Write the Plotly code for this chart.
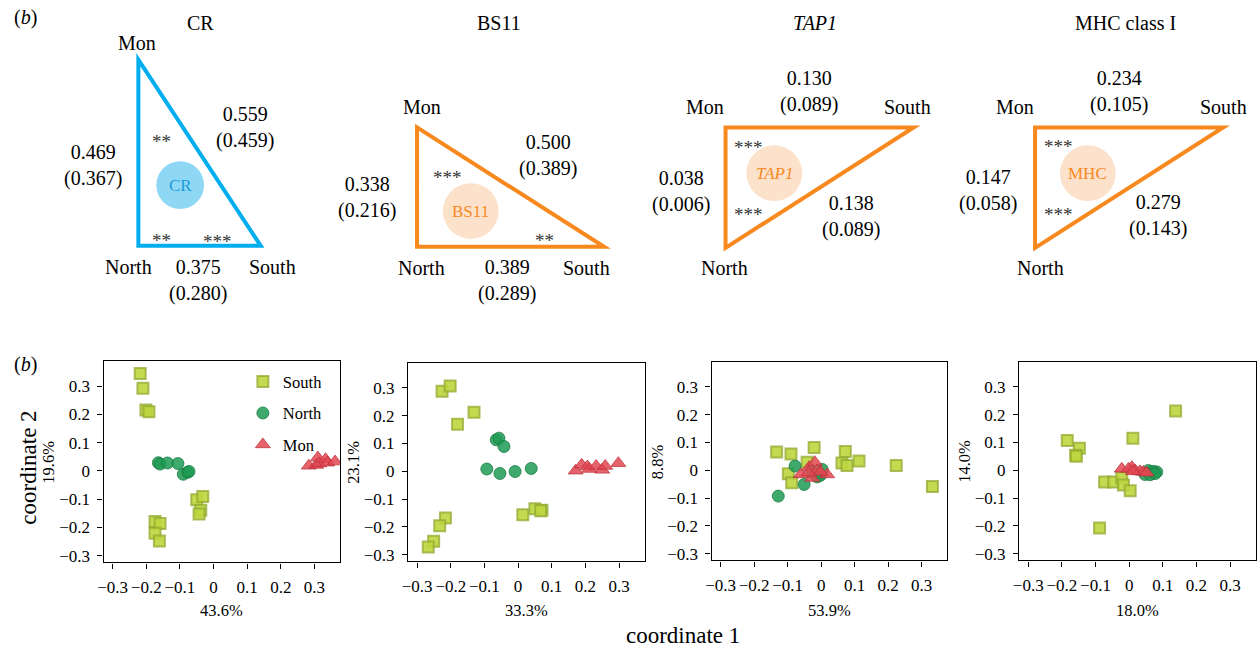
import plotly.graph_objects as go

W, H = 1258, 648
FONT = "Liberation Serif, Times New Roman, serif"

# ---------------- top row: pairwise values between populations ----------------
genes = ["CR", "BS11", "<i>TAP1</i>", "MHC class I"]
circle_labels = ["CR", "BS11", "<i>TAP1</i>", "MHC"]
mon_south = ["0.559", "0.500", "0.130", "0.234"]
mon_south_paren = ["(0.459)", "(0.389)", "(0.089)", "(0.105)"]
mon_north = ["0.469", "0.338", "0.038", "0.147"]
mon_north_paren = ["(0.367)", "(0.216)", "(0.006)", "(0.058)"]
north_south = ["0.375", "0.389", "0.138", "0.279"]
north_south_paren = ["(0.280)", "(0.289)", "(0.089)", "(0.143)"]
stars = [["**", "**", "***"], ["***", "**"], ["***", "***"], ["***", "***"]]

# ---------------- bottom row: PCoA coordinates ----------------
cr_south_x = [-0.218, -0.210, -0.201, -0.192, -0.050, -0.032, -0.038, -0.043, -0.174, -0.159, -0.174, -0.161]
cr_south_y = [0.345, 0.293, 0.216, 0.209, -0.102, -0.091, -0.139, -0.153, -0.179, -0.186, -0.221, -0.248]
cr_north_x = [-0.164, -0.159, -0.137, -0.106, -0.090, -0.077, -0.073]
cr_north_y = [0.029, 0.024, 0.028, 0.026, -0.012, -0.005, -0.002]
cr_mon_x = [0.283, 0.305, 0.310, 0.314, 0.333, 0.338, 0.361]
cr_mon_y = [0.018, 0.021, 0.047, 0.026, 0.041, 0.029, 0.033]

bs_south_x = [-0.226, -0.202, -0.131, -0.180, 0.014, 0.050, 0.071, 0.067, -0.216, -0.233, -0.251, -0.267]
bs_south_y = [0.288, 0.306, 0.212, 0.169, -0.156, -0.135, -0.140, -0.142, -0.168, -0.196, -0.252, -0.272]
bs_north_x = [-0.065, -0.057, -0.042, -0.093, -0.054, -0.009, 0.039]
bs_north_y = [0.113, 0.119, 0.089, 0.008, -0.008, -0.001, 0.010]
bs_mon_x = [0.171, 0.189, 0.206, 0.212, 0.232, 0.250, 0.259, 0.298]
bs_mon_y = [0.002, 0.023, 0.017, 0.008, 0.019, 0.005, 0.019, 0.029]

tap_south_x = [-0.133, -0.090, -0.021, 0.072, -0.042, -0.098, -0.088, 0.062, 0.077, 0.113, 0.224, 0.332]
tap_south_y = [0.066, 0.058, 0.082, 0.067, 0.029, -0.013, -0.045, 0.026, 0.017, 0.033, 0.017, -0.058]
tap_north_x = [-0.078, -0.051, -0.128, -0.002, 0.003, -0.012, -0.027]
tap_north_y = [0.015, -0.051, -0.093, -0.018, 0.003, -0.024, -0.006]
tap_mon_x = [-0.061, -0.036, -0.019, -0.012, -0.027, 0.018, -0.002, -0.038]
tap_mon_y = [-0.015, 0.011, 0.029, 0.000, -0.028, -0.015, -0.006, -0.009]

mhc_south_x = [0.138, 0.011, -0.184, -0.148, -0.159, -0.157, -0.073, -0.046, -0.022, -0.017, 0.003, -0.088]
mhc_south_y = [0.213, 0.115, 0.107, 0.079, 0.054, 0.050, -0.042, -0.042, -0.027, -0.053, -0.074, -0.208]
mhc_north_x = [0.057, 0.067, 0.082, 0.047, 0.072, 0.062, 0.077]
mhc_north_y = [-0.001, -0.009, -0.006, -0.015, -0.004, -0.016, -0.012]
mhc_mon_x = [-0.022, 0.008, 0.018, 0.032, 0.042, -0.002, 0.011, 0.052]
mhc_mon_y = [0.005, 0.011, -0.001, -0.004, -0.006, 0.005, -0.004, -0.009]

pct_x = ["43.6%", "33.3%", "53.9%", "18.0%"]
pct_y = ["19.6%", "23.1%", "8.8%", "14.0%"]
tick_vals = [-0.3, -0.2, -0.1, 0, 0.1, 0.2, 0.3]

# ---------------- layout geometry (pixels) ----------------
def px(x):
    return x / W


def py(y):
    return 1 - y / H


CYAN = "#00AEEF"
ORANGE = "#F7891F"
tri_colors = [CYAN, ORANGE, ORANGE, ORANGE]
circ_fill = ["#8ED8F6", "#FCE1CB", "#FCE1CB", "#FCE1CB"]
circ_text = ["#1E9BD7", ORANGE, ORANGE, ORANGE]

tri_vertices = [
    [(133, 60), (133, 247), (256, 247)],
    [(413, 128), (413, 248), (601, 248)],
    [(723, 128), (912, 128), (723, 249)],
    [(1034, 128), (1223, 128), (1034, 249)],
]
circ_geo = [(175, 186, 24), (467, 212, 28), (772, 174, 28), (1087, 174, 28)]
title_pos = [(195, 23), (495, 23), (813, 23), (1125, 23)]
mon_pos = [(132, 43), (418, 108), (702, 108), (1014, 108)]
north_pos = [(123, 268), (417, 269), (722, 269), (1039, 269)]
south_pos = [(268, 268), (583, 269), (906, 108), (1223, 108)]
ms_pos = [(240, 128), (545, 156), (807, 92), (1118, 92)]
mn_pos = [(87, 166), (363, 198), (678, 192), (987, 191)]
ns_pos = [(193, 282), (503, 282), (849, 218), (1158, 217)]
star_pos = [
    [(156, 137), (156, 237), (213, 238)],
    [(444, 173), (541, 237)],
    [(746, 143), (746, 211)],
    [(1058, 142), (1058, 211)],
]

domains_px = [
    (98, 336, 363, 565),
    (404, 642, 365, 564),
    (709, 946, 364, 563),
    (1018, 1256, 364, 563),
]

fig = go.Figure()
shapes = []
annotations = []


def ann(x, y, text, size=20, color="black", **kw):
    d = dict(x=px(x), y=py(y), xref="paper", yref="paper", text=text,
             showarrow=False, xanchor="center", yanchor="middle",
             font=dict(family=FONT, size=size, color=color))
    d.update(kw)
    annotations.append(d)


for i in range(4):
    v = tri_vertices[i]
    path = "M {} {} L {} {} L {} {} Z".format(
        px(v[0][0]), py(v[0][1]), px(v[1][0]), py(v[1][1]), px(v[2][0]), py(v[2][1]))
    shapes.append(dict(type="path", path=path, xref="paper", yref="paper",
                       line=dict(color=tri_colors[i], width=4), fillcolor="rgba(0,0,0,0)"))
    cx, cy, r = circ_geo[i]
    shapes.append(dict(type="circle", xref="paper", yref="paper",
                       x0=px(cx - r), x1=px(cx + r), y0=py(cy + r), y1=py(cy - r),
                       fillcolor=circ_fill[i], line=dict(width=0)))
    ann(cx, cy, circle_labels[i], size=17, color=circ_text[i])
    ann(*title_pos[i], genes[i])
    ann(*mon_pos[i], "Mon")
    ann(*north_pos[i], "North")
    ann(*south_pos[i], "South")
    ann(*ms_pos[i], mon_south[i] + "<br>" + mon_south_paren[i])
    ann(*mn_pos[i], mon_north[i] + "<br>" + mon_north_paren[i])
    ann(*ns_pos[i], north_south[i] + "<br>" + north_south_paren[i])
    for (sx, sy), s in zip(star_pos[i], stars[i]):
        ann(sx, sy + 5, s, size=19, color="#333333")

ann(20, 18, "(<i>b</i>)", size=20)
ann(20, 366, "(<i>b</i>)", size=20)
ann(23, 470, "coordinate 2", size=23, textangle=-90)
ann(680, 638, "coordinate 1", size=23)

# ---------------- scatter panels ----------------
panels = [
    (cr_south_x, cr_south_y, cr_north_x, cr_north_y, cr_mon_x, cr_mon_y),
    (bs_south_x, bs_south_y, bs_north_x, bs_north_y, bs_mon_x, bs_mon_y),
    (tap_south_x, tap_south_y, tap_north_x, tap_north_y, tap_mon_x, tap_mon_y),
    (mhc_south_x, mhc_south_y, mhc_north_x, mhc_north_y, mhc_mon_x, mhc_mon_y),
]

south_style = dict(symbol="square", size=11, color="rgba(190,214,62,0.9)",
                   line=dict(color="rgba(145,170,48,0.75)", width=2))
north_style = dict(symbol="circle", size=12, color="rgba(30,155,85,0.85)",
                   line=dict(color="rgba(25,125,65,0.8)", width=1))
mon_style = dict(symbol="triangle-up", size=13, color="rgba(226,72,82,0.85)",
                 line=dict(color="rgba(185,45,55,0.7)", width=1))

layout_axes = {}
for i, (sx, sy, nx, ny, mx, my) in enumerate(panels):
    k = "" if i == 0 else str(i + 1)
    xa, ya = "x" + k, "y" + k
    show = i == 0
    fig.add_trace(go.Scatter(x=sx, y=sy, mode="markers", name="South", marker=south_style,
                             xaxis=xa, yaxis=ya, showlegend=show, legendgroup="s"))
    fig.add_trace(go.Scatter(x=nx, y=ny, mode="markers", name="North", marker=north_style,
                             xaxis=xa, yaxis=ya, showlegend=show, legendgroup="n"))
    fig.add_trace(go.Scatter(x=mx, y=my, mode="markers", name="Mon", marker=mon_style,
                             xaxis=xa, yaxis=ya, showlegend=show, legendgroup="m"))
    x0, x1, y0, y1 = domains_px[i]
    common = dict(showline=True, mirror=True, linecolor="black", linewidth=1.3,
                  ticks="outside", ticklen=5, tickcolor="black", showgrid=False,
                  zeroline=False, tickvals=tick_vals, fixedrange=True,
                  ticklabelstandoff=4,
                  tickfont=dict(family=FONT, size=17, color="black"))
    layout_axes["xaxis" + k] = dict(domain=[px(x0), px(x1)], range=[-0.327, 0.377],
                                    anchor=ya, **common)
    layout_axes["yaxis" + k] = dict(domain=[py(y1), py(y0)], range=[-0.324, 0.388],
                                    anchor=xa, **common)
    ann((x0 + x1) / 2, 613, pct_x[i], size=16.5)
    ann(x0 - 55, (y0 + y1) / 2, pct_y[i], size=16.5, textangle=-90)

fig.update_layout(
    width=W, height=H,
    margin=dict(l=0, r=0, t=0, b=0),
    paper_bgcolor="white", plot_bgcolor="white",
    font=dict(family=FONT, size=15, color="black"),
    shapes=shapes, annotations=annotations,
    legend=dict(x=px(238), y=py(366), xanchor="left", yanchor="top",
                bgcolor="rgba(0,0,0,0)", font=dict(family=FONT, size=16.5),
                tracegroupgap=7, itemwidth=30),
    **layout_axes,
)

fig.write_html("out.html", config={"displayModeBar": False},
               post_script="document.body.style.margin='0';")
